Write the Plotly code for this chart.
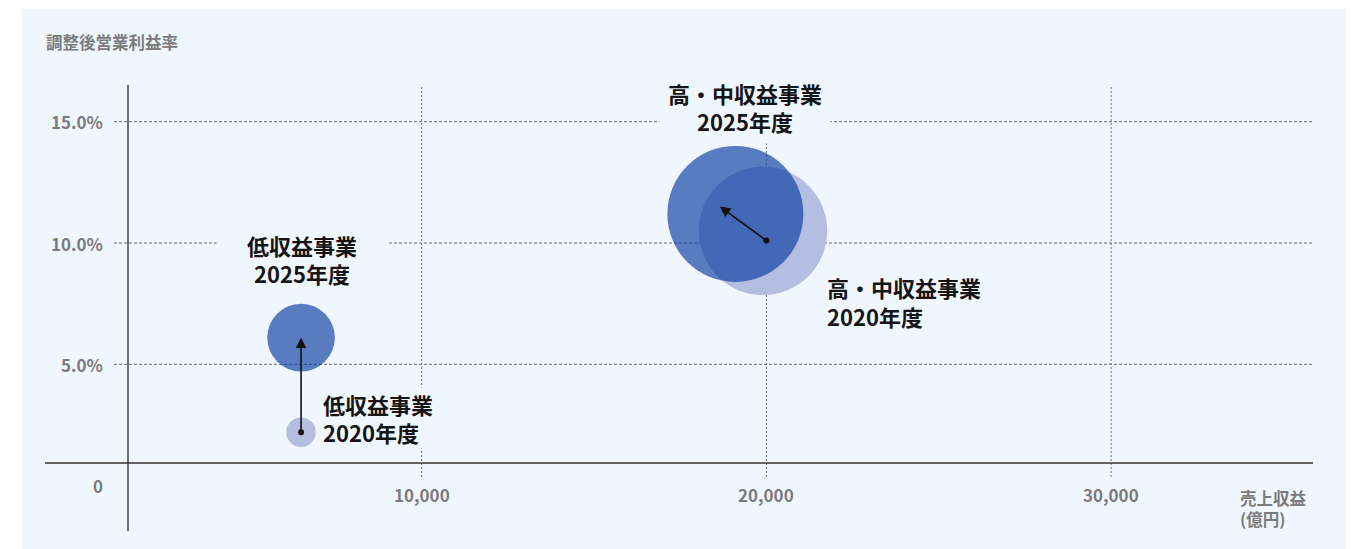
import plotly.graph_objects as go

# ---- data ----
segments = ["低収益事業", "高・中収益事業"]
revenue_2020 = [6500, 19900]      # 億円 (bubble centre)
margin_2020 = [2.2, 10.5]         # %
revenue_2025 = [6500, 19100]
margin_2025 = [6.1, 11.2]
size_2020 = [29.5, 128.5]         # bubble diameter (px)
size_2025 = [67.7, 136]
arrow_start_x = [6500, 20000]
arrow_start_y = [2.2, 10.1]
arrow_end_x = [6500, 18650]
arrow_end_y = [6.1, 11.5]

x_ticks = [10000, 20000, 30000]
x_tick_labels = ["10,000", "20,000", "30,000"]
y_ticks = [5, 10, 15]
y_tick_labels = ["5.0%", "10.0%", "15.0%"]

W, H = 1363, 549
OFF = 8  # page offset of the plot div
BG = "#f0f6fd"
FONT = "Noto Sans CJK JP"
GRID = "#6b6b6b"
TICK = "#7b7b7b"

def px(x):
    return (x - OFF) / W

def py(y):
    return 1 - (y - OFF) / H

fig = go.Figure()

fig.add_trace(go.Scatter(
    x=revenue_2020, y=margin_2020, mode="markers",
    marker=dict(size=size_2020, sizemode="diameter", color="#b3bee0",
                opacity=1, line=dict(width=0)),
    hoverinfo="skip", showlegend=False))
fig.add_trace(go.Scatter(
    x=revenue_2025, y=margin_2025, mode="markers",
    marker=dict(size=size_2025, sizemode="diameter", color="rgba(8,58,160,0.65)",
                opacity=1, line=dict(width=0)),
    hoverinfo="skip", showlegend=False))
fig.add_trace(go.Scatter(
    x=arrow_start_x, y=arrow_start_y, mode="markers",
    marker=dict(size=6, color="#111111", opacity=1),
    hoverinfo="skip", showlegend=False))

shapes = []
# panel background
shapes.append(dict(type="rect", xref="paper", yref="paper", layer="below",
                   x0=px(22), x1=px(1346), y0=-0.05, y1=py(9),
                   fillcolor=BG, line=dict(width=0)))
# horizontal grid
for v in y_ticks:
    shapes.append(dict(type="line", xref="paper", yref="y", layer="below",
                       x0=px(114), x1=px(1313), y0=v, y1=v,
                       line=dict(color=GRID, width=1, dash="3px,2px")))
# vertical grid
for v in x_ticks:
    shapes.append(dict(type="line", xref="x", yref="paper", layer="below",
                       x0=v, x1=v, y0=py(477), y1=py(85),
                       line=dict(color=GRID, width=1, dash="2px,2px")))
# axis lines
shapes.append(dict(type="line", xref="paper", yref="paper", layer="below",
                   x0=px(128), x1=px(128), y0=py(531), y1=py(85),
                   line=dict(color="#444444", width=1.5)))
shapes.append(dict(type="line", xref="paper", yref="paper", layer="below",
                   x0=px(45), x1=px(1313), y0=py(463), y1=py(463),
                   line=dict(color="#333333", width=1.5)))

ann = []
# arrows
for i in range(len(segments)):
    ann.append(dict(x=arrow_end_x[i], y=arrow_end_y[i], ax=arrow_start_x[i], ay=arrow_start_y[i],
                    xref="x", yref="y", axref="x", ayref="y", text="",
                    showarrow=True, arrowhead=2, arrowsize=1.3, arrowwidth=1.6,
                    arrowcolor="#111111", standoff=0, startstandoff=0))
TF = dict(family=FONT, size=17, color=TICK, weight=700)
# tick labels
for v, t in zip(x_ticks, x_tick_labels):
    ann.append(dict(x=v, y=py(494), xref="x", yref="paper", text=t, showarrow=False,
                    xanchor="center", yanchor="middle", font=TF))
for v, t in zip(y_ticks, y_tick_labels):
    ann.append(dict(x=px(105), y=v, xref="paper", yref="y", text=t, showarrow=False,
                    xanchor="right", yanchor="middle", font=TF))
ann.append(dict(x=px(105), y=0, xref="paper", yref="y", text="0", showarrow=False,
                xanchor="right", yanchor="middle", font=TF))
# axis titles
AF = dict(family=FONT, size=16.5, color=TICK, weight=700)
ann.append(dict(x=px(44), y=py(42), xref="paper", yref="paper", text="調整後営業利益率",
                showarrow=False, xanchor="left", yanchor="middle", font=AF))
ann.append(dict(x=px(1238), y=py(508), xref="paper", yref="paper", text="売上収益<br>(億円)",
                showarrow=False, xanchor="left", yanchor="middle", align="left", font=AF))

LBL = dict(family=FONT, size=22, color="#151515", weight=700)
# point labels
ann.append(dict(x=px(302), y=py(259), xref="paper", yref="paper",
                text=f"{segments[0]}<br>2025年度", showarrow=False,
                xanchor="center", yanchor="middle", align="center",
                width=170, height=72, bgcolor=BG, borderpad=0, font=LBL))
ann.append(dict(x=px(745), y=py(107), xref="paper", yref="paper",
                text=f"{segments[1]}<br>2025年度", showarrow=False,
                xanchor="center", yanchor="middle", align="center",
                width=170, height=72, bgcolor=BG, borderpad=0, font=LBL))
ann.append(dict(x=px(322), y=py(418), xref="paper", yref="paper",
                text=f"{segments[0]}<br>2020年度", showarrow=False,
                xanchor="left", yanchor="middle", align="left",
                width=128, height=60, bgcolor=BG, borderpad=0, font=LBL))
ann.append(dict(x=px(825), y=py(301), xref="paper", yref="paper",
                text=f"{segments[1]}<br>2020年度", showarrow=False,
                xanchor="left", yanchor="middle", align="left", font=LBL))

x0v = (OFF - 77) * 29.011
x1v = (W + OFF - 77) * 29.011
y0v = (485.6 - (H + OFF)) / 24.26
y1v = (485.6 - OFF) / 24.26

fig.update_layout(
    width=W, height=H, margin=dict(l=0, r=0, t=0, b=0),
    paper_bgcolor="white", plot_bgcolor="rgba(0,0,0,0)",
    xaxis=dict(range=[x0v, x1v], visible=False, fixedrange=True),
    yaxis=dict(range=[y0v, y1v], visible=False, fixedrange=True),
    shapes=shapes, annotations=ann, showlegend=False,
)

fig.write_html("out.html")
